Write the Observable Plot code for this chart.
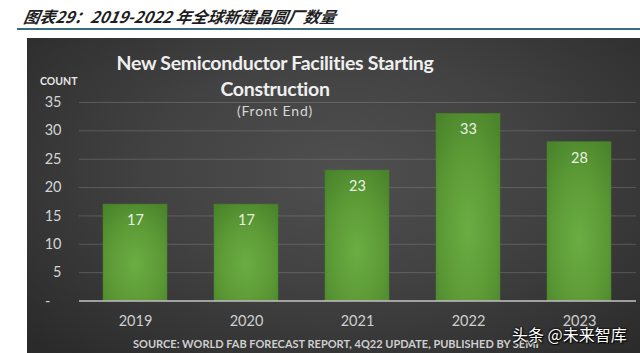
<!DOCTYPE html>
<html>
<head>
<meta charset="utf-8">
<script src="https://cdn.jsdelivr.net/npm/d3@7"></script>
<script src="https://cdn.jsdelivr.net/npm/@observablehq/plot@0.6"></script>
<style>
  html, body { margin: 0; padding: 0; background: #fff; }
  #wrap { position: relative; width: 640px; height: 353px; overflow: hidden; font-family: Lato, "Open Sans", sans-serif; }
  #cn-title { position: absolute; left: 22px; top: 5px; font-family: "Noto Sans CJK SC", sans-serif; font-weight: 700; font-style: italic; font-size: 16px; line-height: 22px; color: #1e1e1e; white-space: nowrap; transform: skewX(-10deg); transform-origin: left bottom; }
  #rule { position: absolute; left: 17px; right: 0; top: 28px; height: 2px; background: #3b6b7f; }
  #panel { position: absolute; left: 27px; top: 38px; width: 613px; height: 315px;
    background: radial-gradient(ellipse 70% 80% at 52% 42%, #4f4f4f 0%, #424242 45%, #333333 80%, #2a2a2a 100%); }
  #panel svg { position: absolute; left: 0; top: 0; background: transparent; }
  .t { position: absolute; white-space: nowrap; }
  #title { left: -27px; width: 550px; text-align: center; top: 12px; font-weight: 700; font-size: 19.5px; letter-spacing: -0.3px; line-height: 26px; color: #efefef; }
  #subtitle { left: -27px; width: 550px; text-align: center; top: 64px; font-size: 14px; letter-spacing: 0.8px; color: #d6d6d6; }
  #count { left: 13px; top: 37px; font-weight: 700; font-size: 10.5px; color: #e6e6e6; }
  #source { left: 106px; top: 299px; font-weight: 700; font-size: 11px; color: #cfcfcf; }
  #mark { position: absolute; left: 512px; top: 322px; font-family: "Noto Sans CJK SC", sans-serif; font-size: 16px; color: #fff; white-space: nowrap;
    text-shadow: 0 0 2px #000, 0 0 2px #000, 1px 1px 1px #000; }
</style>
</head>
<body>
<div id="wrap">
  <div id="cn-title">图表29：2019-2022 年全球新建晶圆厂数量</div>
  <div id="rule"></div>
  <div id="panel">
    <div class="t" id="title">New Semiconductor Facilities Starting<br>Construction</div>
    <div class="t" id="subtitle">(Front End)</div>
    <div class="t" id="count">COUNT</div>
    <div class="t" id="source">SOURCE: WORLD FAB FORECAST REPORT, 4Q22 UPDATE, PUBLISHED BY SEMI</div>
  </div>
  <div id="mark">头条 @未来智库</div>
</div>
<script>
// Fabs starting construction per year (front end)
const years = ["2019", "2020", "2021", "2022", "2023"];
const counts = [17, 17, 23, 33, 28];
const yTicks = [0, 5, 10, 15, 20, 25, 30, 35];

const data = years.map((year, i) => ({year, count: counts[i]}));

const chart = Plot.plot({
  width: 613,
  height: 315,
  marginLeft: 52,
  marginRight: 4,
  marginTop: 64,
  marginBottom: 52.5,
  style: {background: "transparent", fontFamily: "Lato, 'Open Sans', sans-serif"},
  x: {domain: years, paddingInner: 0.42, paddingOuter: 0.21, label: null},
  y: {domain: [0, 35], label: null},
  marks: [
    Plot.gridY(yTicks.filter(d => d > 0), {stroke: "#8c8c8c", strokeOpacity: 0.4, strokeWidth: 1}),
    Plot.barY(data, {x: "year", y: "count", fill: "url(#barFill)", stroke: "#4a7f2b", strokeWidth: 0.6}),
    Plot.ruleY([0], {stroke: "#c4c4c4", strokeWidth: 1.6}),
    Plot.text(data, {x: "year", y: "count", text: d => String(d.count), dy: 16, fill: "#e9f1e2", fontSize: 14.5}),
    Plot.axisY({ticks: yTicks, tickSize: 0, tickPadding: 18, fontSize: 14.5, color: "#d4d4d4",
      tickFormat: d => d === 0 ? "-\u00a0\u00a0\u00a0" : String(d)}),
    Plot.axisX({tickSize: 0, tickPadding: 15, fontSize: 14.5, color: "#cfcfcf"})
  ]
});

// Soft radial shading on the bars
d3.select(chart).insert("defs", ":first-child").html(`
  <radialGradient id="barFill" cx="50%" cy="62%" r="75%">
    <stop offset="0%" stop-color="#6bad43"/>
    <stop offset="55%" stop-color="#5c9a36"/>
    <stop offset="100%" stop-color="#4a842b"/>
  </radialGradient>`);

document.getElementById("panel").appendChild(chart);
</script>
</body>
</html>
